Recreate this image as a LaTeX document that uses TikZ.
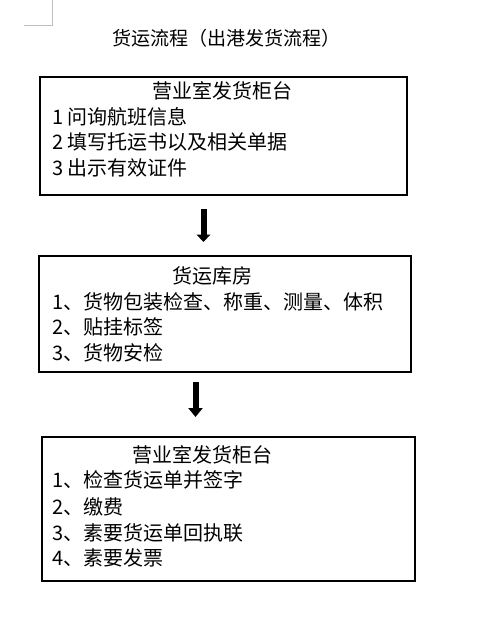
\documentclass[tikz,border=0pt]{standalone}
\usepackage{fontspec}
\setmainfont{Noto Sans CJK SC}
\usetikzlibrary{arrows.meta}
\definecolor{markgray}{RGB}{190,190,190}
\begin{document}
\begin{tikzpicture}[x=0.75pt,y=-0.75pt,
  box/.style={draw=black,line width=1.5pt},
  txt/.style={anchor=base west,inner sep=0pt,font=\fontsize{15pt}{18pt}\selectfont},
  pagetitle/.style={anchor=base west,inner sep=0pt,font=\fontsize{14.3pt}{17pt}\selectfont},
  blockarrow/.style={draw=black,line width=4.5pt}
]
\fill[white] (0,0) rectangle (481,622);
\useasboundingbox (0,0) rectangle (481,622);
% page corner mark
\draw[markgray,line width=0.75pt] (24,25) -- (52,25) -- (52,0);
% page title
\node[pagetitle] (title) at (112,45.5) {货运流程（出港发货流程）};
% box 1
\draw[box] (40,77) rectangle (407,195);
\node[txt] (b1t) at (152,98.1) {营业室发货柜台};
\node[txt] (b1a) at (52,124.3) {1 问询航班信息};
\node[txt] (b1b) at (52,149.9) {2 填写托运书以及相关单据};
\node[txt] (b1c) at (52,175.3) {3 出示有效证件};
% arrow 1
\coordinate (a1s) at (203.5,209);
\coordinate (a1e) at (203.5,242);
\draw[blockarrow,-{Triangle[width=10pt,length=5.5pt]}] (a1s) -- (a1e);
% box 2
\draw[box] (39,256) rectangle (411,372);
\node[txt] (b2t) at (172,283.1) {货运库房};
\node[txt] (b2a) at (52,309.3) {1、货物包装检查、称重、测量、体积};
\node[txt] (b2b) at (52,334.9) {2、贴挂标签};
\node[txt] (b2c) at (52,360.6) {3、货物安检};
% arrow 2
\coordinate (a2s) at (195.5,382);
\coordinate (a2e) at (195.5,417);
\draw[blockarrow,-{Triangle[width=10.5pt,length=6.75pt]}] (a2s) -- (a2e);
% box 3
\draw[box] (42,437) rectangle (415,581);
\node[txt] (b3t) at (132,462.1) {营业室发货柜台};
\node[txt] (b3a) at (52,487.9) {1、检查货运单并签字};
\node[txt] (b3b) at (52,514.3) {2、缴费};
\node[txt] (b3c) at (52,540.3) {3、素要货运单回执联};
\node[txt] (b3d) at (52,565.9) {4、素要发票};
\end{tikzpicture}
\end{document}
